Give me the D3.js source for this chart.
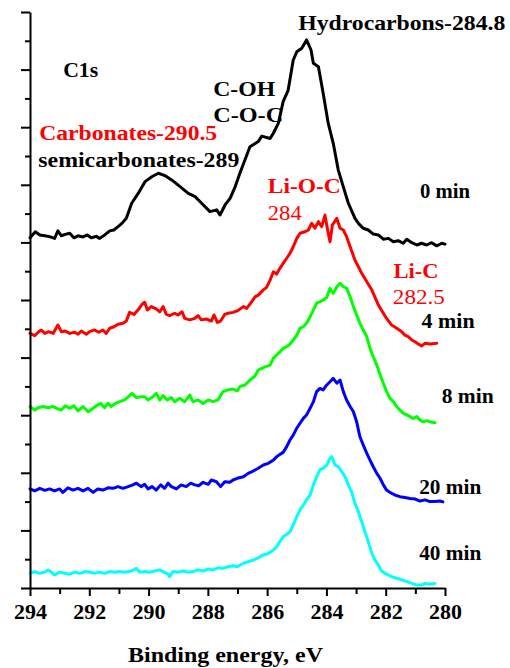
<!DOCTYPE html>
<html>
<head>
<meta charset="utf-8">
<script src="https://cdn.jsdelivr.net/npm/d3@7"></script>
<style>
  html, body { margin: 0; padding: 0; background: #fff; }
  svg { display: block; }
</style>
</head>
<body>
<svg id="chart" width="510" height="668"></svg>
<script>
// C1s XPS spectra after successive sputtering times (stacked, arbitrary units)
const seriesNames = ["0 min", "4 min", "8 min", "20 min", "40 min"];

const energy0 = [294.00,293.82,293.67,293.50,293.34,293.17,293.06,292.94,292.81,292.66,292.52,292.38,292.21,292.07,291.93,291.76,291.65,291.48,291.31,291.17,291.03,290.90,290.75,
  290.57,290.35,290.12,289.89,289.67,289.45,289.22,289.00,288.66,288.43,288.21,287.93,287.70,287.59,287.42,287.25,287.08,286.92,286.75,286.58,286.30,286.18,285.90,285.79,285.62,285.46,285.29,285.12,285.00,284.83,284.67,284.52,284.44,284.27,284.11,283.94,283.77,283.60,283.43,283.26,283.04,
  282.92,282.76,282.59,282.42,282.25,282.08,281.91,281.74,281.58,281.41,281.29,281.12,280.95,280.79,280.62,280.45,280.28,280.11,280.00];
const counts0 = [12.16,12.37,12.26,12.23,12.20,12.14,12.40,12.23,12.28,12.32,12.16,12.23,12.19,12.26,12.16,12.21,12.14,12.26,12.40,12.43,12.55,12.66,12.84,
  13.36,13.70,14.11,14.28,14.40,14.32,14.17,13.99,13.70,13.59,13.36,13.07,13.13,12.95,13.30,13.53,13.93,14.40,14.86,15.32,15.50,15.69,15.61,15.79,16.14,16.89,17.29,18.33,18.62,18.74,19.03,18.68,18.22,18.10,17.18,16.14,15.44,14.51,13.93,13.36,12.84,
  12.66,12.49,12.43,12.29,12.26,12.11,12.14,12.02,12.06,11.97,12.11,11.99,11.91,11.97,11.91,11.99,11.88,11.97,11.94];

const energy4 = [294.00,293.84,293.71,293.62,293.50,293.37,293.22,293.06,292.94,292.81,292.66,292.49,292.38,292.27,292.10,291.99,291.82,291.68,291.54,291.43,291.31,291.17,291.03,290.86,290.75,290.64,290.49,290.36,290.22,290.13,290.04,289.91,289.74,289.62,289.51,289.40,289.29,289.12,289.01,288.87,288.78,288.61,288.44,288.33,288.22,288.05,287.88,287.79,287.68,287.57,287.43,287.32,287.15,287.01,
  286.80,286.69,286.52,286.41,286.30,286.13,286.02,285.90,285.79,285.68,285.57,285.46,285.34,285.23,285.12,285.00,284.89,284.72,284.61,284.50,284.39,284.27,284.16,284.05,283.97,283.88,283.80,283.65,283.54,283.43,283.32,283.20,283.04,282.81,282.47,282.25,282.08,281.97,281.80,281.63,281.46,281.35,281.24,281.12,281.01,280.90,280.79,280.67,280.51,280.28];
const counts4 = [8.84,8.76,8.90,8.96,8.84,8.90,8.84,9.13,8.90,8.92,8.84,8.88,8.81,8.92,8.81,8.90,8.96,8.88,8.96,8.84,9.02,9.07,9.16,9.19,9.27,9.57,9.50,9.65,9.85,9.92,9.65,9.77,9.69,9.59,9.77,9.50,9.46,9.54,9.48,9.59,9.36,9.31,9.36,9.46,9.31,9.34,9.27,9.48,9.22,9.27,9.50,9.54,9.57,9.62,
  9.77,9.71,9.94,10.11,10.17,10.35,10.44,10.69,10.98,10.90,11.10,11.27,11.45,11.62,11.85,12.14,12.32,12.37,12.43,12.66,12.49,12.72,12.55,12.95,12.49,12.02,12.60,12.84,12.49,12.43,12.20,11.85,11.39,10.93,10.35,9.83,9.54,9.36,9.13,9.02,8.90,8.78,8.73,8.61,8.55,8.47,8.40,8.50,8.47,8.50];

const energy8 = [294.00,293.84,293.73,293.56,293.39,293.22,293.06,292.94,292.81,292.66,292.52,292.38,292.21,292.04,291.87,291.76,291.61,291.48,291.37,291.26,291.12,290.97,290.81,290.69,290.56,290.41,290.27,290.13,290.02,289.85,289.74,289.62,289.51,289.37,289.23,289.12,288.95,288.78,288.61,288.50,288.33,288.16,287.99,287.83,287.66,287.49,287.32,287.15,287.01,
  286.92,286.75,286.58,286.41,286.30,286.18,286.07,285.90,285.79,285.68,285.57,285.46,285.34,285.23,285.12,285.00,284.89,284.78,284.67,284.55,284.44,284.33,284.22,284.11,283.99,283.88,283.77,283.65,283.54,283.43,283.32,283.20,283.09,282.98,282.87,282.76,282.64,282.53,282.42,282.30,282.19,282.08,281.97,281.86,281.74,281.63,281.52,281.41,281.29,281.18,281.07,280.95,280.84,280.73,280.62,280.51,280.34];
const counts8 = [6.30,6.18,6.26,6.30,6.26,6.30,6.22,6.18,6.33,6.24,6.33,6.15,6.30,6.12,6.24,6.33,6.41,6.26,6.41,6.30,6.41,6.47,6.53,6.64,6.76,6.61,6.64,6.64,6.53,6.64,6.76,6.53,6.68,6.53,6.61,6.47,6.59,6.47,6.70,6.47,6.53,6.41,6.53,6.47,6.53,6.82,6.88,6.91,6.84,
  6.99,7.05,7.22,7.36,7.57,7.63,7.68,7.74,7.98,8.09,8.20,8.32,8.38,8.47,8.61,8.78,9.02,9.07,9.19,9.42,9.65,9.89,9.94,10.00,10.09,10.41,10.23,10.46,10.58,10.46,10.41,10.11,9.77,9.48,9.19,8.96,8.73,8.32,8.03,7.74,7.40,7.11,6.82,6.59,6.47,6.30,6.18,6.07,6.01,5.95,5.89,5.95,5.83,5.77,5.81,5.77,5.74];

const energy20 = [294.00,293.84,293.67,293.50,293.34,293.17,293.00,292.89,292.72,292.55,292.38,292.21,292.04,291.87,291.71,291.54,291.37,291.20,291.03,290.86,290.69,290.53,290.41,290.25,290.13,290.02,289.88,289.74,289.59,289.46,289.34,289.23,289.06,288.90,288.73,288.58,288.44,288.31,288.16,287.99,287.88,287.71,287.57,287.43,287.26,287.15,287.01,
  286.80,286.64,286.47,286.30,286.13,285.96,285.79,285.68,285.57,285.46,285.34,285.23,285.12,285.00,284.89,284.78,284.67,284.55,284.44,284.33,284.22,284.11,283.99,283.88,283.77,283.65,283.54,283.43,283.32,283.20,283.09,282.98,282.87,282.76,282.64,282.53,282.42,282.30,282.19,282.08,281.97,281.86,281.69,281.52,281.35,281.18,281.01,280.84,280.67,280.51,280.34,280.17,280.07];
const counts20 = [3.44,3.37,3.46,3.39,3.44,3.37,3.44,3.32,3.48,3.40,3.46,3.37,3.46,3.32,3.44,3.40,3.48,3.46,3.52,3.46,3.52,3.58,3.64,3.52,3.60,3.44,3.52,3.40,3.58,3.46,3.64,3.52,3.44,3.58,3.52,3.64,3.58,3.55,3.67,3.60,3.75,3.69,3.52,3.69,3.67,3.75,3.81,
  3.86,3.98,4.06,4.16,4.27,4.33,4.44,4.56,4.64,4.71,4.91,5.14,5.31,5.55,5.72,5.89,6.01,6.24,6.47,6.82,6.93,6.88,7.05,7.16,7.28,7.11,7.22,6.82,6.53,6.30,6.12,5.77,5.25,4.97,4.68,4.44,4.21,3.98,3.81,3.58,3.40,3.32,3.23,3.17,3.14,3.11,3.09,3.02,3.06,3.00,3.00,3.02,2.99];

const energy40 = [294.00,293.84,293.67,293.50,293.39,293.28,293.17,293.00,292.83,292.66,292.49,292.32,292.15,291.99,291.82,291.65,291.48,291.31,291.14,290.97,290.81,290.58,290.41,290.30,290.13,289.96,289.79,289.62,289.48,289.34,289.29,289.18,289.01,288.84,288.67,288.50,288.33,288.16,287.99,287.83,287.66,287.49,287.32,287.15,287.01,
  286.80,286.64,286.47,286.30,286.13,285.96,285.79,285.68,285.57,285.46,285.34,285.23,285.12,285.00,284.89,284.78,284.67,284.55,284.44,284.33,284.22,284.11,283.99,283.88,283.82,283.71,283.60,283.48,283.37,283.26,283.15,283.04,282.92,282.81,282.70,282.59,282.47,282.36,282.25,282.14,282.02,281.91,281.80,281.63,281.46,281.29,281.12,280.95,280.79,280.67,280.51,280.34];
const counts40 = [0.51,0.57,0.51,0.55,0.63,0.55,0.45,0.55,0.51,0.48,0.55,0.51,0.57,0.55,0.51,0.55,0.51,0.57,0.55,0.57,0.55,0.59,0.68,0.55,0.57,0.55,0.59,0.63,0.55,0.48,0.39,0.57,0.55,0.59,0.55,0.57,0.63,0.59,0.66,0.63,0.70,0.68,0.74,0.77,0.74,
  0.86,0.91,0.97,1.05,1.15,1.20,1.32,1.43,1.61,1.78,1.86,1.95,2.19,2.48,2.71,2.88,3.06,3.23,3.58,3.86,4.10,4.16,4.27,4.50,4.56,4.27,4.21,4.04,3.86,3.58,3.34,2.94,2.65,2.30,1.95,1.61,1.20,0.97,0.80,0.59,0.51,0.45,0.39,0.34,0.28,0.22,0.16,0.10,0.10,0.16,0.13,0.16];

const xTickLabels = [294, 292, 290, 288, 286, 284, 282, 280];

// Annotation text with its anchor in data units (energy, intensity)
const noteText   = ["Hydrocarbons-284.8", "C1s", "C-OH", "C-O-C", "Carbonates-290.5", "semicarbonates-289", "Li-O-C", "284", "Li-C", "282.5", "0 min", "4 min", "8 min", "20 min", "40 min"];
const noteEnergy = [284.95, 292.88, 287.82, 287.82, 293.69, 293.72, 285.98, 285.98, 281.74, 281.76, 280.84, 280.79, 280.11, 280.87, 280.87];
const noteLevel  = [19.39, 17.73, 17.09, 16.19, 15.56, 14.63, 13.73, 12.78, 10.77, 9.85, 13.53, 9.02, 6.41, 3.26, 0.97];

// ---- drawing ----
const serif = "Liberation Serif";
const svg = d3.select("#chart");
const plotLeft = 30, plotRight = 445, plotTop = 12, plotBottom = 588;

const x = d3.scaleLinear().domain([294, 280]).range([plotLeft, plotRight]);
const y = d3.scaleLinear().domain([0, 20]).range([plotBottom, plotTop]);

const colors = ["#000000", "#ff0000", "#00ff00", "#0000ff", "#00ffff"];
const energies = [energy0, energy4, energy8, energy20, energy40];
const counts = [counts0, counts4, counts8, counts20, counts40];

const line = d3.line().x(d => x(d[0])).y(d => y(d[1]));

seriesNames.forEach((name, i) => {
  const pts = energies[i].map((e, k) => [e, counts[i][k]]);
  svg.append("path")
    .datum(pts)
    .attr("class", "spectrum")
    .attr("fill", "none")
    .attr("stroke", colors[i])
    .attr("stroke-width", 3)
    .attr("stroke-linejoin", "round")
    .attr("stroke-linecap", "round")
    .attr("d", line);
});

// Axes
const axisStyle = g => {
  g.select(".domain").attr("stroke", "#000").attr("stroke-width", 2);
  g.selectAll(".tick line").attr("stroke", "#000").attr("stroke-width", 2);
};

// y axis: long ticks on even levels, short ticks on odd levels, no labels
svg.append("g")
  .attr("transform", `translate(${plotLeft},0)`)
  .call(d3.axisLeft(y).tickValues(d3.range(0, 21, 2)).tickSize(9).tickSizeOuter(0).tickFormat(""))
  .call(axisStyle);
svg.append("g")
  .attr("transform", `translate(${plotLeft},0)`)
  .call(d3.axisLeft(y).tickValues(d3.range(1, 20, 2)).tickSize(5).tickSizeOuter(0).tickFormat(""))
  .call(g => g.select(".domain").remove())
  .call(axisStyle);

// x axis: labelled even energies, unlabelled odd ones
const xAxisG = svg.append("g")
  .attr("transform", `translate(0,${plotBottom})`)
  .call(d3.axisBottom(x).tickValues(xTickLabels).tickSize(8).tickSizeOuter(0).tickFormat(d3.format("d")))
  .call(axisStyle);
xAxisG.attr("font-family", serif).attr("font-size", 22).attr("font-weight", "bold");
xAxisG.selectAll(".tick text")
  .attr("y", 31).attr("dy", 0)
  .attr("fill", "#000");
svg.append("g")
  .attr("transform", `translate(0,${plotBottom})`)
  .call(d3.axisBottom(x).tickValues(d3.range(293, 280, -2)).tickSize(6).tickSizeOuter(0).tickFormat(""))
  .call(g => g.select(".domain").remove())
  .call(axisStyle);

svg.append("text")
  .attr("x", 225.5).attr("y", 661.5)
  .attr("text-anchor", "middle")
  .attr("font-family", serif)
  .attr("font-size", 20).attr("font-weight", "bold")
  .attr("textLength", 195).attr("lengthAdjust", "spacingAndGlyphs")
  .text("Binding energy, eV");

// annotations
const noteColor  = ["#000", "#000", "#000", "#000", "#ff0000", "#000", "#ff0000", "#ff0000", "#ff0000", "#ff0000", "#000", "#000", "#000", "#000", "#000"];
const noteWeight = ["bold", "bold", "bold", "bold", "bold", "bold", "bold", "normal", "bold", "normal", "bold", "bold", "bold", "bold", "bold"];
const noteWidth  = [207, 35, 62, 70, 178, 201, 73, 34, 45, 52, 50, 53, 52, 62, 62];

noteText.forEach((t, i) => {
  svg.append("text")
    .attr("x", x(noteEnergy[i]))
    .attr("y", y(noteLevel[i]))
    .attr("fill", noteColor[i])
    .attr("font-family", serif)
    .attr("font-size", 20)
    .attr("font-weight", noteWeight[i])
    .attr("textLength", noteWidth[i])
    .attr("lengthAdjust", "spacingAndGlyphs")
    .text(t);
});
</script>
</body>
</html>
